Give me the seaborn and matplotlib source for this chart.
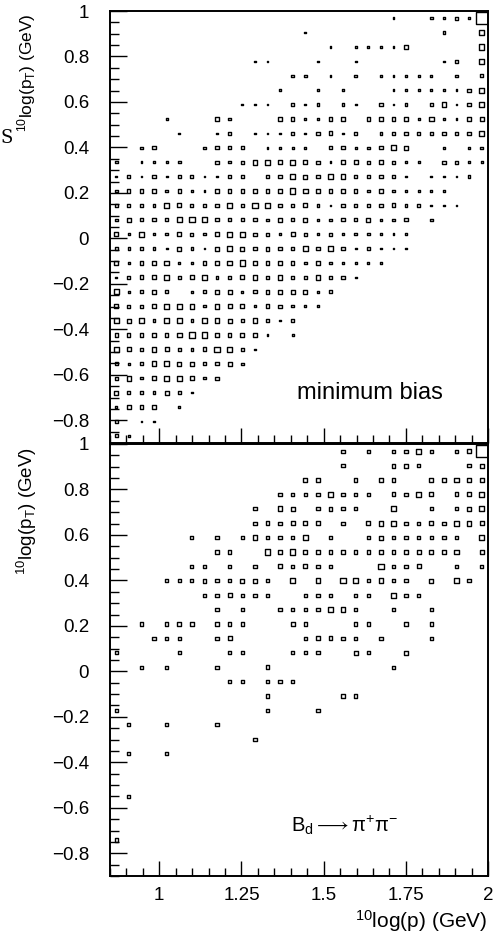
import matplotlib
matplotlib.use('Agg')
import matplotlib.pyplot as plt
from matplotlib.ticker import MultipleLocator
import seaborn as sns
import pandas as pd
import numpy as np

# histogram binning: 30 x 30 cells
p_range = (0.85, 2.0)
pt_range = (-0.9, 1.0)
n_bins = 30

# cell contents, first line = highest pT bin
# '.' empty cell, digit = 2 x box level, 'X' = fullest cell
minbias_grid = [
    "......................2..3242X",
    "...............2..........3..6",
    ".................2.22224.....7",
    "...........22...2..2......23.7",
    "..............33.2.3.22222.3.4",
    ".............2..2.2...22222246",
    "..........222.323.32.423.46246",
    "....2...43...442245.4545262245",
    ".....2..23.222424523.344444346",
    "..34...3444.2322.4423475..3.23",
    "3.2223..43466565425545422.4432",
    "24242342244.346547644432.2223.",
    "345534324446457654443433222...",
    "4433654346477445324344533222..",
    "354446774444354533445234.3....",
    "536335435764435434333322......",
    "434325325754543646423222......",
    "5346622446744443432222........",
    "24556356335636336342..........",
    "63454.345524555524............",
    "54456663655354322.............",
    "656377366546423...............",
    "4444467764562.2...............",
    "654653357642..................",
    "43467554453...................",
    "463566534.....................",
    "5443542.......................",
    "2544.2........................",
    "4.22..........................",
    "42............................",
]

bdpipi_grid = [
    "..................4.4.4464.45X",
    "..................4...554...45",
    "...............54..4.44..54645",
    ".............44446444.5465.557",
    "...........4.65.4544..6..4.457",
    "...........454555.4.5664454665",
    "......4.4.464446.4..45444444.6",
    "........44..7675555444555556.5",
    "......44.4.4.54544...7445..4.4",
    "....444544554.6.6.764644.5.64.",
    ".......445444..444.44.644.....",
    "........4.4..4444664..4..4....",
    "..4.455.444...54...44..4.4....",
    "...444..45.....45544.4...4....",
    "4....4...44...444..54..5......",
    "..4.4...4...5.........4.......",
    ".........44.444...............",
    "............4.....44..........",
    "4...........4...4.............",
    ".4..4...4.....................",
    "...........4..................",
    ".4..4.........................",
    "..............................",
    "..............................",
    ".4............................",
    "..............................",
    "..............................",
    "4.............................",
    "..............................",
    "..............................",
]

p_ticks = [1, 1.25, 1.5, 1.75, 2]
p_ticklabels = ['1', '1.25', '1.5', '1.75', '2']
pt_ticks = [-0.8, -0.6, -0.4, -0.2, 0, 0.2, 0.4, 0.6, 0.8, 1]
pt_ticklabels = ['\u22120.8', '\u22120.6', '\u22120.4', '\u22120.2', '0',
                 '0.2', '0.4', '0.6', '0.8', '1']

panel_labels = ['minimum bias', 'B$_{\\rm d}$$\\longrightarrow$π$^{+}$π$^{-}$']


def grid_to_frame(grid):
    xe = np.linspace(*p_range, n_bins + 1)
    ye = np.linspace(*pt_range, n_bins + 1)
    xc = (xe[:-1] + xe[1:]) / 2
    yc = (ye[:-1] + ye[1:]) / 2
    rows = []
    for r, line in enumerate(grid):
        j = n_bins - 1 - r
        for i, ch in enumerate(line):
            if ch == '.':
                continue
            level = 8.0 if ch == 'X' else int(ch) / 2
            rows.append((xc[i], yc[j], level))
    df = pd.DataFrame(rows, columns=['logp', 'logpt', 'level'])
    # box side grows linearly with the content (PAW "BOX" option)
    side_pt = (1.45 * df['level'] + 0.3) * 0.72
    df['area'] = side_pt ** 2
    return df


sns.set_theme(style='white')
plt.rcParams['font.family'] = ['Liberation Sans', 'DejaVu Sans']
plt.rcParams['font.sans-serif'] = ['Liberation Sans']
plt.rcParams['mathtext.fontset'] = 'custom'
plt.rcParams['mathtext.rm'] = 'Liberation Sans'
plt.rcParams['axes.edgecolor'] = 'black'
plt.rcParams['text.color'] = 'black'
plt.rcParams['xtick.color'] = 'black'
plt.rcParams['ytick.color'] = 'black'
plt.rcParams['xtick.labelcolor'] = 'black'
plt.rcParams['ytick.labelcolor'] = 'black'

W, H = 494, 944
fig = plt.figure(figsize=(W / 100, H / 100), dpi=100)
ax_top = fig.add_axes([110 / W, 1 - 443 / H, 378 / W, 432 / H])
ax_bot = fig.add_axes([110 / W, 1 - 876 / H, 378 / W, 432 / H])

frames = [grid_to_frame(minbias_grid), grid_to_frame(bdpipi_grid)]
amin = min(f['area'].min() for f in frames)
amax = max(f['area'].max() for f in frames)
label_pos = [(0.688, 0.116), (0.62, 0.118)]
label_size = [17, 14.5]

for ax, df, label, pos, fs in zip([ax_top, ax_bot], frames, panel_labels,
                                  label_pos, label_size):
    sns.scatterplot(data=df, x='logp', y='logpt', size='area',
                    sizes=(amin, amax), size_norm=(amin, amax),
                    marker='s', legend=False, ax=ax, zorder=3)
    pc = ax.collections[-1]
    pc.set_facecolor('none')
    pc.set_edgecolor('black')
    pc.set_linewidth(1.0)

    ax.set_xlim(*p_range)
    ax.set_ylim(*pt_range)
    ax.set_xlabel('')
    ax.set_ylabel('')
    ax.set_xticks(p_ticks)
    ax.set_yticks(pt_ticks)
    ax.set_yticklabels(pt_ticklabels)
    ax.xaxis.set_minor_locator(MultipleLocator(0.05))
    ax.yaxis.set_minor_locator(MultipleLocator(0.05))
    ax.tick_params(axis='both', which='both', direction='in', color='black',
                   labelcolor='black', top=False, right=False, left=True,
                   bottom=True, width=1.0)
    ax.tick_params(axis='y', which='major', length=12, pad=15, labelsize=13.5)
    ax.tick_params(axis='y', which='minor', length=6.5)
    ax.tick_params(axis='x', which='major', length=11, pad=8, labelsize=13.5)
    ax.tick_params(axis='x', which='minor', length=5.5)
    for sp in ax.spines.values():
        sp.set_visible(True)
        sp.set_linewidth(1.4)
        sp.set_color('black')
    ax.text(pos[0], pos[1], label, transform=ax.transAxes, ha='center',
            va='center', fontsize=fs, color='black')

ax_top.set_xticklabels([])
ax_bot.set_xticklabels(p_ticklabels)

ylab = '$^{10}$log(p$_{\\rm T}$) (GeV)'
fig.text(27 / W, 1 - 13 / H, ylab, rotation=90, ha='center', va='top', fontsize=12.5)
fig.text(27 / W, 1 - 447 / H, ylab, rotation=90, ha='center', va='top', fontsize=13.5)
fig.text(7 / W, 1 - 138 / H, 'S', ha='center', va='center', fontsize=13,
         family='DejaVu Serif')
fig.text(488 / W, 1 - 921 / H, '$^{10}$log(p) (GeV)', ha='right', va='center',
         fontsize=15)

fig.savefig('out.png', dpi=100, facecolor='white')
